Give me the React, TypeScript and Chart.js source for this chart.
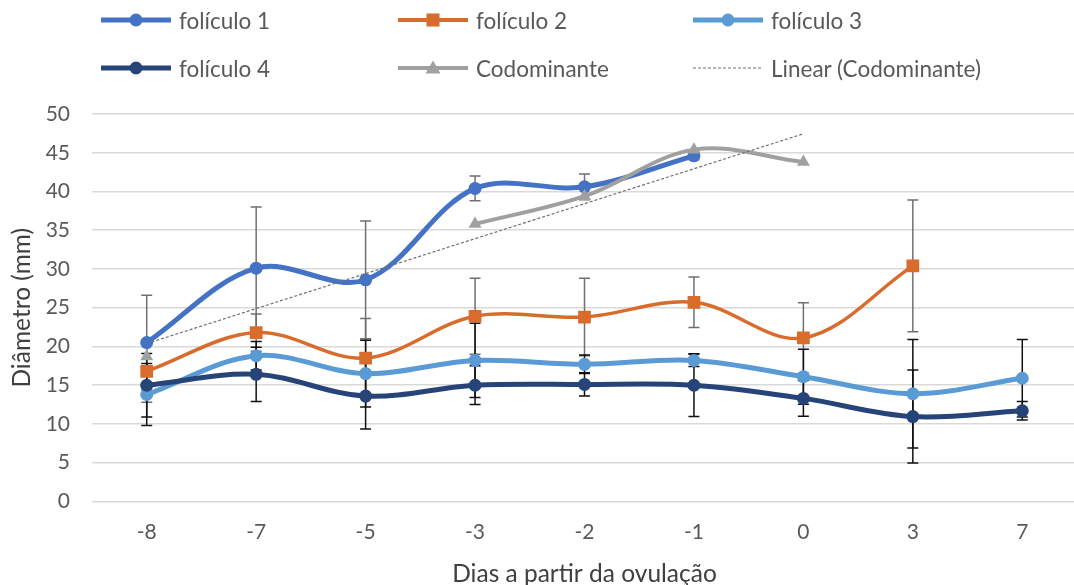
import React, { useEffect, useRef } from "react";
import { Chart, registerables } from "chart.js";

Chart.register(...registerables);

const categories = ["-8", "-7", "-5", "-3", "-2", "-1", "0", "3", "7"];
const foliculo1 = [20.5, 30.1, 28.6, 40.4, 40.6, 44.6, null, null, null];
const foliculo1Err = [6.1, 7.9, 7.6, 1.6, 1.65, 0.5, null, null, null];
const foliculo2 = [16.8, 21.8, 18.5, 23.9, 23.8, 25.7, 21.1, 30.4, null];
const foliculo2Err = [4.0, 2.4, 5.1, 4.9, 5.0, 3.25, 4.55, 8.5, null];
const foliculo3 = [13.8, 18.8, 16.5, 18.2, 17.7, 18.2, 16.1, 13.9, 15.9];
const foliculo3Err = [4.0, 1.85, 4.3, 4.8, 1.2, 0.8, 3.55, 7.0, 5.0];
const foliculo4 = [15.0, 16.4, 13.6, 15.0, 15.1, 15.0, 13.3, 10.95, 11.7];
const foliculo4Err = [4.1, 3.5, 4.25, 2.5, 1.5, 4.05, 2.3, 6.0, 1.2];
const codominante = [18.7, null, null, 35.8, 39.4, 45.4, 43.8, null, null];

const Y_MIN = 0;
const Y_MAX = 50;
const Y_STEP = 5;

const FONT = "Lato, 'Noto Sans', sans-serif";
const TEXT = "#595959";

const C1 = "#4472C4";
const C2 = "#D76C2C";
const C3 = "#5B9BD5";
const C4 = "#264478";
const CC = "#A0A0A0";

// least-squares trendline over the codominant points (category index as x)
function linearTrend(values: (number | null)[]): (number | null)[] {
  const pts: [number, number][] = [];
  values.forEach((v, i) => {
    if (v != null) pts.push([i + 1, v]);
  });
  const n = pts.length;
  const mx = pts.reduce((s, p) => s + p[0], 0) / n;
  const my = pts.reduce((s, p) => s + p[1], 0) / n;
  let sxy = 0;
  let sxx = 0;
  pts.forEach(([x, y]) => {
    sxy += (x - mx) * (y - my);
    sxx += (x - mx) * (x - mx);
  });
  const slope = sxy / sxx;
  const b = my - slope * mx;
  const first = pts[0][0];
  const last = pts[n - 1][0];
  return values.map((_, i) => {
    const x = i + 1;
    return x >= first && x <= last ? b + slope * x : null;
  });
}

const errorBarPlugin = {
  id: "errorBars",
  beforeDatasetsDraw(chart: any) {
    const ctx = chart.ctx;
    const yScale = chart.scales.y;
    chart.data.datasets.forEach((ds: any, i: number) => {
      const errs = ds.errorBars;
      if (!errs) return;
      const meta = chart.getDatasetMeta(i);
      ctx.save();
      ctx.strokeStyle = ds.errorColor;
      ctx.lineWidth = 1.5;
      meta.data.forEach((pt: any, j: number) => {
        const v = ds.data[j];
        const e = errs[j];
        if (v == null || e == null) return;
        const x = pt.x;
        const yt = yScale.getPixelForValue(v + e);
        const yb = yScale.getPixelForValue(v - e);
        ctx.beginPath();
        ctx.moveTo(x, yt);
        ctx.lineTo(x, yb);
        ctx.moveTo(x - 5.5, yt);
        ctx.lineTo(x + 5.5, yt);
        ctx.moveTo(x - 5.5, yb);
        ctx.lineTo(x + 5.5, yb);
        ctx.stroke();
      });
      ctx.restore();
    });
  },
};

type LegendDef = {
  label: string;
  color: string;
  width: number;
  marker: "circle" | "square" | "triangle" | "none";
  dashed?: boolean;
};

const legendItems: LegendDef[] = [
  { label: "folículo 1", color: C1, width: 5, marker: "circle" },
  { label: "folículo 2", color: C2, width: 4, marker: "square" },
  { label: "folículo 3", color: C3, width: 5, marker: "circle" },
  { label: "folículo 4", color: C4, width: 5, marker: "circle" },
  { label: "Codominante", color: CC, width: 4, marker: "triangle" },
  { label: "Linear (Codominante)", color: "#707070", width: 1, marker: "none", dashed: true },
];

const legendCols = [100, 397, 692];
const legendRows = [20, 68];

function LegendSwatch({ item }: { item: LegendDef }) {
  const w = 72;
  const h = 20;
  const cy = h / 2;
  const cx = w / 2;
  return (
    <svg width={w} height={h} style={{ display: "block" }}>
      <line
        x1={1}
        x2={w - 1}
        y1={cy}
        y2={cy}
        stroke={item.color}
        strokeWidth={item.width}
        strokeDasharray={item.dashed ? "3 2" : undefined}
      />
      {item.marker === "circle" && <circle cx={cx} cy={cy} r={6.5} fill={item.color} />}
      {item.marker === "square" && (
        <rect x={cx - 6.5} y={cy - 6.5} width={13} height={13} fill={item.color} />
      )}
      {item.marker === "triangle" && (
        <polygon
          points={`${cx},${cy - 7.5} ${cx + 7.5},${cy + 5.5} ${cx - 7.5},${cy + 5.5}`}
          fill={item.color}
        />
      )}
    </svg>
  );
}

// canvas slightly wider than the page so the plot area runs to the page edge
const CANVAS_W = 1086;
const CANVAS_H = 585;

export default function App() {
  const canvasRef = useRef<HTMLCanvasElement | null>(null);

  useEffect(() => {
    if (!canvasRef.current) return;
    const trend = linearTrend(codominante);
    const chart = new Chart(canvasRef.current, {
      type: "line",
      data: {
        labels: categories,
        datasets: [
          {
            label: "folículo 1",
            data: foliculo1,
            borderColor: C1,
            backgroundColor: C1,
            borderWidth: 5,
            pointStyle: "circle",
            pointRadius: 6.5,
            pointBorderWidth: 0,
            tension: 0.35,
            spanGaps: false,
            order: 5,
            errorBars: foliculo1Err,
            errorColor: "#707070",
          } as any,
          {
            label: "folículo 2",
            data: foliculo2,
            borderColor: C2,
            backgroundColor: C2,
            borderWidth: 3.5,
            pointStyle: "rect",
            pointRadius: 9,
            pointBorderWidth: 0,
            tension: 0.35,
            order: 4,
            errorBars: foliculo2Err,
            errorColor: "#707070",
          } as any,
          {
            label: "folículo 3",
            data: foliculo3,
            borderColor: C3,
            backgroundColor: C3,
            borderWidth: 5,
            pointStyle: "circle",
            pointRadius: 6.5,
            pointBorderWidth: 0,
            tension: 0.35,
            order: 3,
            errorBars: foliculo3Err,
            errorColor: "#111111",
          } as any,
          {
            label: "folículo 4",
            data: foliculo4,
            borderColor: C4,
            backgroundColor: C4,
            borderWidth: 5,
            pointStyle: "circle",
            pointRadius: 6.5,
            pointBorderWidth: 0,
            tension: 0.35,
            order: 2,
            errorBars: foliculo4Err,
            errorColor: "#111111",
          } as any,
          {
            label: "Codominante",
            data: codominante,
            borderColor: CC,
            backgroundColor: CC,
            borderWidth: 4,
            pointStyle: "triangle",
            pointRadius: 7.5,
            pointBorderWidth: 0,
            tension: 0.35,
            spanGaps: false,
            order: 1,
          } as any,
          {
            label: "Linear (Codominante)",
            data: trend,
            borderColor: "#707070",
            borderWidth: 1.2,
            borderDash: [3, 2],
            pointRadius: 0,
            tension: 0,
            order: 0,
          } as any,
        ],
      },
      options: {
        animation: false,
        responsive: false,
        maintainAspectRatio: false,
        layout: { padding: { top: 114, left: 0, right: 0, bottom: 0 } },
        plugins: {
          legend: { display: false },
          tooltip: { enabled: false },
        },
        scales: {
          x: {
            offset: true,
            grid: { display: false, drawTicks: false },
            border: { display: false },
            ticks: {
              color: TEXT,
              font: { family: FONT, size: 21, lineHeight: 1.0 },
              padding: 20,
            },
            title: {
              display: true,
              text: "Dias a partir da ovulação",
              color: "#404040",
              font: { family: FONT, size: 24.5, lineHeight: 0.92 },
              padding: { top: 0, bottom: 0 },
            },
            afterFit: (scale: any) => {
              scale.paddingLeft = 0;
              scale.paddingRight = 0;
            },
          },
          y: {
            min: Y_MIN,
            max: Y_MAX,
            grid: { color: "#D9D9D9", lineWidth: 1.5, drawTicks: false },
            border: { display: false },
            ticks: {
              stepSize: Y_STEP,
              color: TEXT,
              font: { family: FONT, size: 21 },
              padding: 22,
            },
            title: {
              display: true,
              text: "Diâmetro (mm)",
              color: "#404040",
              font: { family: FONT, size: 24.5, lineHeight: 1.0 },
              padding: { top: 10, bottom: 0 },
            },
            afterFit: (scale: any) => {
              scale.width = 92;
            },
          },
        },
      },
      plugins: [errorBarPlugin],
    });
    return () => chart.destroy();
  }, []);

  return (
    <div
      style={{
        position: "absolute",
        left: 0,
        top: 0,
        width: 1074,
        height: 585,
        background: "#ffffff",
        overflow: "hidden",
      }}
    >
      <canvas
        ref={canvasRef}
        width={CANVAS_W}
        height={CANVAS_H}
        style={{ position: "absolute", left: 0, top: 0, width: CANVAS_W, height: CANVAS_H }}
      />
      {legendItems.map((item, i) => {
        const col = i % 3;
        const row = Math.floor(i / 3);
        const x = legendCols[col];
        const y = legendRows[row];
        return (
          <div
            key={item.label}
            style={{
              position: "absolute",
              left: x,
              top: y - 14,
              height: 28,
              display: "flex",
              alignItems: "center",
              fontFamily: FONT,
              fontSize: 22.5,
              color: TEXT,
              whiteSpace: "nowrap",
            }}
          >
            <LegendSwatch item={item} />
            <span style={{ marginLeft: 7 }}>{item.label}</span>
          </div>
        );
      })}
    </div>
  );
}
